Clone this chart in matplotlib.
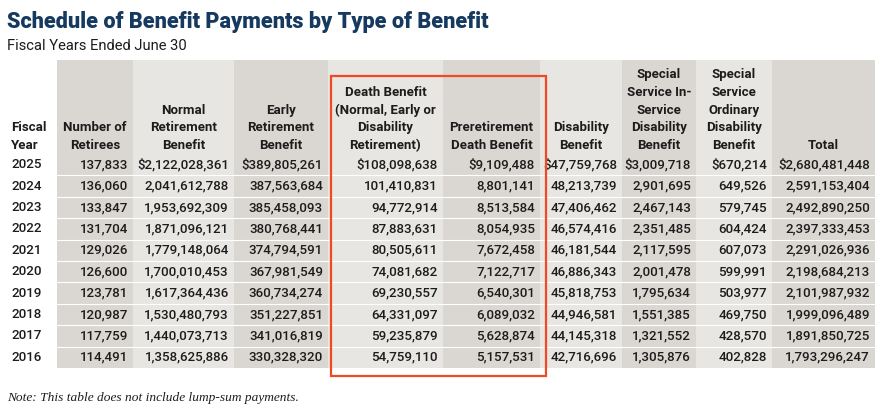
import matplotlib
matplotlib.use("Agg")
import matplotlib.pyplot as plt
from matplotlib.patches import Rectangle

# ---------------- data ----------------
years = [2025, 2024, 2023, 2022, 2021, 2020, 2019, 2018, 2017, 2016]
retirees = [137833, 136060, 133847, 131704, 129026, 126600, 123781, 120987, 117759, 114491]
normal_ret = [2122028361, 2041612788, 1953692309, 1871096121, 1779148064,
              1700010453, 1617364436, 1530480793, 1440073713, 1358625886]
early_ret = [389805261, 387563684, 385458093, 380768441, 374794591,
             367981549, 360734274, 351227851, 341016819, 330328320]
death_ben = [108098638, 101410831, 94772914, 87883631, 80505611,
             74081682, 69230557, 64331097, 59235879, 54759110]
preret_death = [9109488, 8801141, 8513584, 8054935, 7672458,
                7122717, 6540301, 6089032, 5628874, 5157531]
disability = [47759768, 48213739, 47406462, 46574416, 46181544,
              46886343, 45818753, 44946581, 44145318, 42716696]
ss_inservice = [3009718, 2901695, 2467143, 2351485, 2117595,
                2001478, 1795634, 1551385, 1321552, 1305876]
ss_ordinary = [670214, 649526, 579745, 604424, 607073,
               599991, 503977, 469750, 428570, 402828]
total = [2680481448, 2591153404, 2492890250, 2397333453, 2291026936,
         2198684213, 2101987932, 1999096489, 1891850725, 1793296247]

headers = [
    ["Fiscal", "Year"],
    ["Number of", "Retirees"],
    ["Normal", "Retirement", "Benefit"],
    ["Early", "Retirement", "Benefit"],
    ["Death Benefit", "(Normal, Early or", "Disability", "Retirement)"],
    ["Preretirement", "Death Benefit"],
    ["Disability", "Benefit"],
    ["Special", "Service In-", "Service", "Disability", "Benefit"],
    ["Special", "Service", "Ordinary", "Disability", "Benefit"],
    ["Total"],
]
title = "Schedule of Benefit Payments by Type of Benefit"
subtitle = "Fiscal Years Ended June 30"
note = "Note: This table does not include lump-sum payments."

columns = [retirees, normal_ret, early_ret, death_ben, preret_death,
           disability, ss_inservice, ss_ordinary, total]
dollar_cols = {1, 2, 3, 4, 5, 6, 7, 8}  # first row gets $ (except retirees)

# ---------------- layout ----------------
W, H = 880, 420
edges = [57, 133, 234, 328, 443, 540, 622, 696, 772, 875]  # column boundaries (px)
table_top = 60
header_bottom = 154
row_h = 21.4
header_base = 149
line_gap = 17.7

dark = "#dad7d2"
light = "#e8e6e2"
txt = "#1c1c1c"
navy = "#163a5f"
red = "#f04a23"

cond = ["Roboto", "DejaVu Sans"]
data_fs = 9.6
head_fs = 9.5

fig = plt.figure(figsize=(W / 100, H / 100), dpi=100)
ax = fig.add_axes([0, 0, 1, 1])
ax.set_xlim(0, W)
ax.set_ylim(H, 0)
ax.axis("off")

n_rows = len(years)
table_bottom = header_bottom + n_rows * row_h

# column shading
for i in range(len(edges) - 1):
    ax.add_patch(Rectangle((edges[i], table_top), edges[i + 1] - edges[i],
                           table_bottom - table_top,
                           facecolor=dark if i % 2 == 0 else light,
                           edgecolor="none", zorder=1))
# row separators
for r in range(1, n_rows):
    y = header_bottom + r * row_h
    ax.plot([edges[0], edges[-1]], [y, y], color="white", lw=0.8, zorder=2)

# title / subtitle
ax.text(7, 22, title, fontsize=15.6, fontweight="heavy", color=navy,
        family=["Roboto", "DejaVu Sans"], va="center", ha="left")
ax.text(7, 46, subtitle, fontsize=10.6, color=txt, family=cond,
        va="center", ha="left")

# headers
for c, lines in enumerate(headers):
    nl = len(lines)
    for k, line in enumerate(lines):
        y = header_base - (nl - 1 - k) * line_gap
        if c == 0:
            ax.text(11, y, line, fontsize=head_fs, fontweight="bold", color=txt,
                    family=cond, ha="left", va="baseline", zorder=3)
        else:
            xc = (edges[c - 1] + edges[c]) / 2
            ax.text(xc, y, line, fontsize=head_fs, fontweight="bold", color=txt,
                    family=cond, ha="center", va="baseline", zorder=3)

# data
for r in range(n_rows):
    yc = header_bottom + (r + 0.5) * row_h
    ax.text(11, yc, str(years[r]), fontsize=data_fs, fontweight="medium",
            color=txt, family=cond, ha="left", va="center", zorder=3)
    for ci, col in enumerate(columns):
        s = f"{col[r]:,}"
        if r == 0 and ci in dollar_cols:
            s = "$" + s
        ax.text(edges[ci + 1] - 5, yc, s, fontsize=data_fs, fontweight="medium",
                color=txt, family=cond, ha="right", va="center", zorder=3)

# red highlight box around death-benefit columns
ax.add_patch(Rectangle((edges[3] + 3, 76), edges[5] + 6 - (edges[3] + 3), 376 - 76,
                       facecolor="none", edgecolor=red, lw=1.6, zorder=4))

ax.text(7, 398, note, fontsize=9.6, style="italic", color=txt,
        family=["Liberation Serif", "DejaVu Serif"], ha="left", va="center")

fig.savefig("out.png", dpi=100)
